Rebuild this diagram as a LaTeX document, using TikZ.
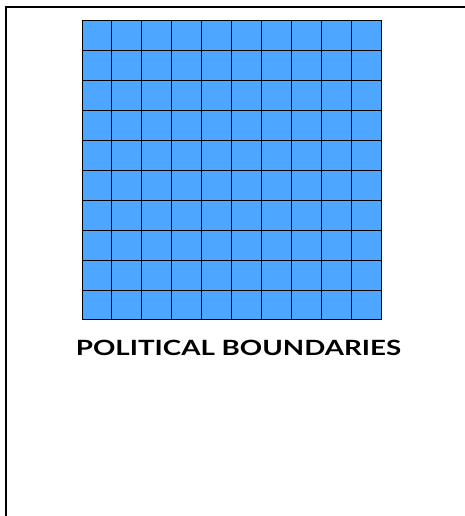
\documentclass[tikz,border=0pt]{standalone}
\usepackage{fontspec}
\newfontfamily\titlefont{Lato}
\usepackage{tikz}
\usepackage{xcolor}
\definecolor{cellblue}{RGB}{77,166,255}

\begin{document}
\begin{tikzpicture}[x=1pt,y=1pt,every node/.style={font=\titlefont\bfseries\fontsize{21}{25}\selectfont}]
\useasboundingbox (0,0) rectangle (464,516);
\fill[white] (0,0) rectangle (464,516);
\draw[line width=2pt] (5.5,-5) -- (5.5,508.5) -- (470,508.5);
% ten by ten cells
\foreach \i in {0,...,9} {
  \foreach \j in {0,...,9} {
    \fill[cellblue] (82+29.9*\i,495.5-29.95*\j) rectangle ++(29.9,-29.95);
    \draw[line width=1pt] (82+29.9*\i,495.5-29.95*\j) rectangle ++(29.9,-29.95);
  }
}
\node (title) at (238.5,168.5) {\scalebox{1.32}[1]{POLITICAL BOUNDARIES}};
\end{tikzpicture}
\end{document}
